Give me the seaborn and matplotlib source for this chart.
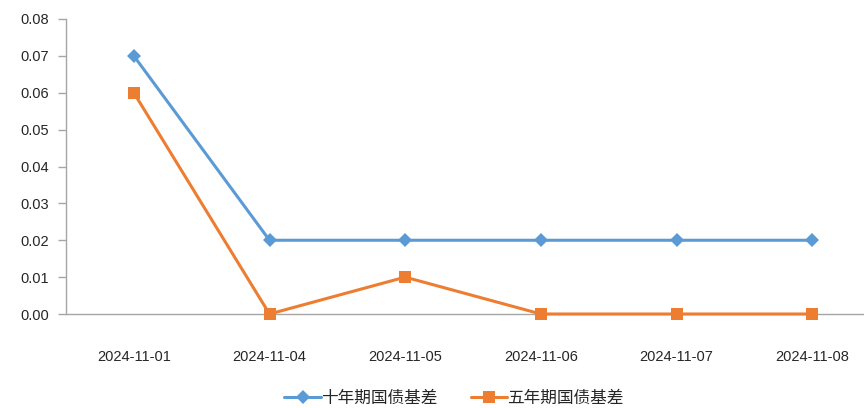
import matplotlib
matplotlib.use("Agg")
import matplotlib.pyplot as plt
import seaborn as sns
import pandas as pd

dates = ["2024-11-01", "2024-11-04", "2024-11-05", "2024-11-06", "2024-11-07", "2024-11-08"]
ten_year = [0.07, 0.02, 0.02, 0.02, 0.02, 0.02]
five_year = [0.06, 0.00, 0.01, 0.00, 0.00, 0.00]
series_names = ["十年期国债基差", "五年期国债基差"]
yticks = [0.00, 0.01, 0.02, 0.03, 0.04, 0.05, 0.06, 0.07, 0.08]

sns.set_theme(style="white")
plt.rcParams['font.family'] = ['Noto Sans CJK SC', 'DejaVu Sans']

df = pd.DataFrame({
    "date": dates * 2,
    "value": ten_year + five_year,
    "series": [series_names[0]] * len(dates) + [series_names[1]] * len(dates),
})
df["x"] = list(range(len(dates))) * 2

fig = plt.figure(figsize=(8.64, 4.08), dpi=100)
ax = fig.add_axes([66/864, 1-314/408, 814/864, 295/408])

colors = {series_names[0]: "#5B9BD5", series_names[1]: "#ED7D31"}
markers = {series_names[0]: "D", series_names[1]: "s"}
sizes = {series_names[0]: 7, series_names[1]: 8.5}
for name in series_names:
    sub = df[df["series"] == name]
    sns.lineplot(data=sub, x="x", y="value", ax=ax, color=colors[name],
                 marker=markers[name], markersize=sizes[name], linewidth=2.2,
                 markeredgewidth=0, label=name, clip_on=False, zorder=3)

ax.set_xlim(-0.5, len(dates) - 0.5)
ax.set_ylim(0, 0.08)
ax.set_yticks(yticks)
ax.set_yticklabels([f"{v:.2f}" for v in yticks], fontsize=10.5, family=['Liberation Sans', 'DejaVu Sans'])
ax.set_xticks(range(len(dates)))
ax.set_xticklabels(dates, fontsize=10.5, family=['Liberation Sans', 'DejaVu Sans'])
ax.set_xticks([i - 0.5 for i in range(len(dates) + 1)], minor=True)
ax.tick_params(axis="x", which="major", length=0, pad=26)
ax.tick_params(axis="x", which="minor", length=6, width=1, color="#A6A6A6", direction="out")
ax.tick_params(axis="y", length=6, width=1, color="#A6A6A6", direction="out", left=True, pad=6)
ax.set_xlabel("")
ax.set_ylabel("")
for s in ["top", "right"]:
    ax.spines[s].set_visible(False)
for s in ["left", "bottom"]:
    ax.spines[s].set_color("#A6A6A6")
    ax.spines[s].set_linewidth(1)
    ax.spines[s].set_zorder(1)

ax.legend(loc="center", bbox_to_anchor=(454/864, 1-398/408), bbox_transform=fig.transFigure,
          ncol=2, frameon=False, fontsize=12, handlelength=2.2, columnspacing=2.0,
          handletextpad=0.0)

fig.savefig("out.png", dpi=100)
